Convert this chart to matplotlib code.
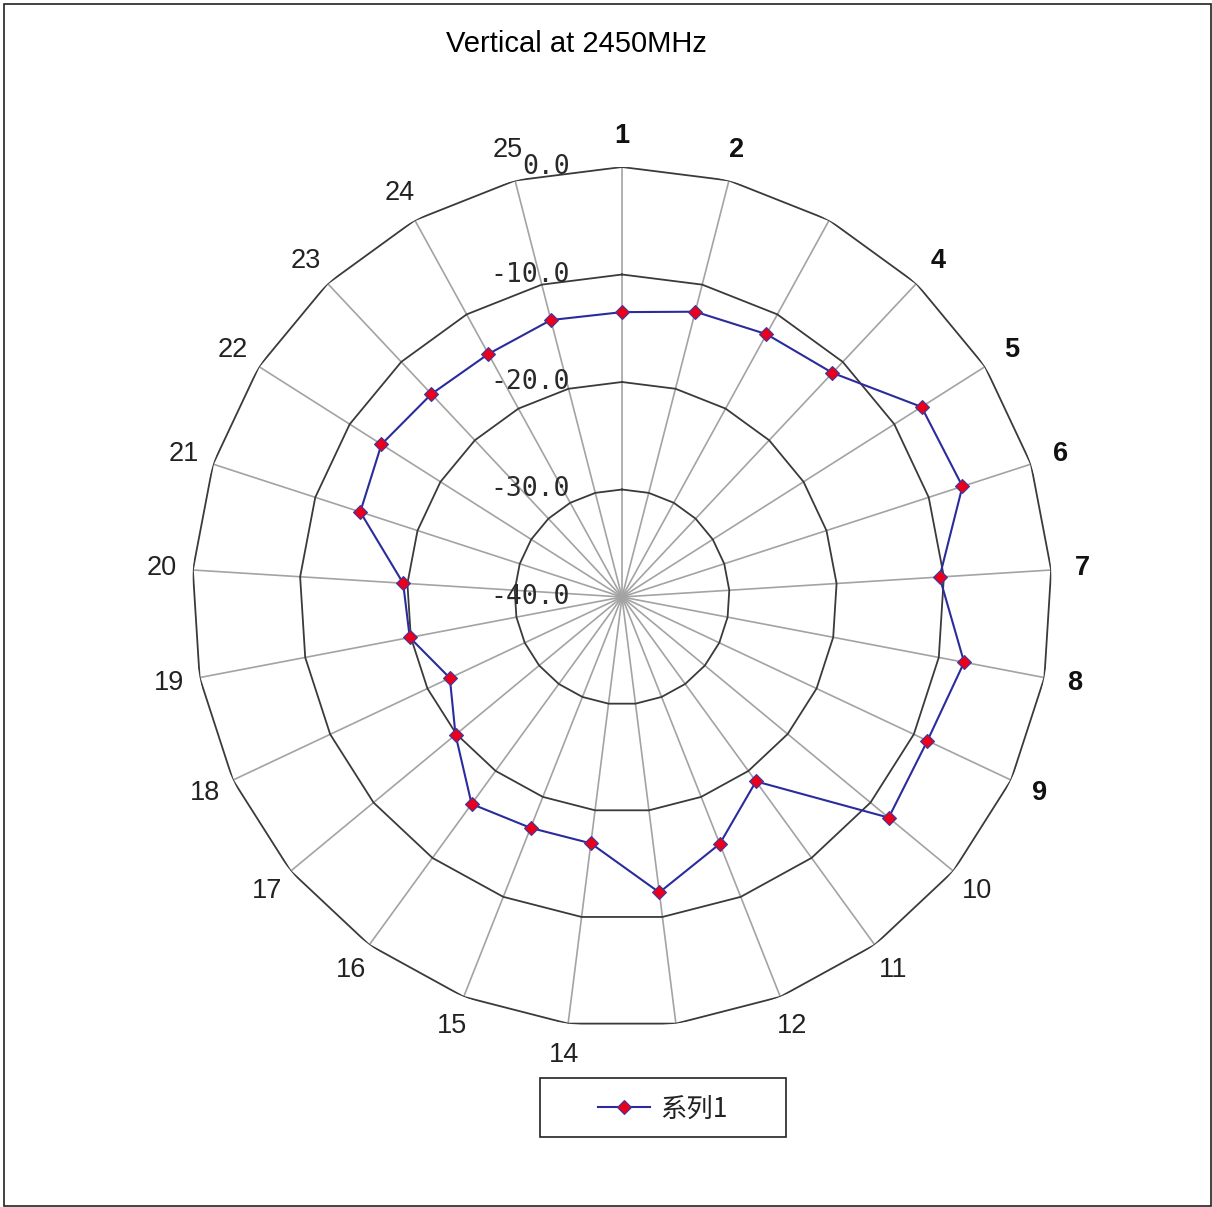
import numpy as np
import matplotlib
matplotlib.use("Agg")
import matplotlib.pyplot as plt
from matplotlib.patches import Rectangle
from matplotlib.lines import Line2D

# ---- data ----
categories = [str(i) for i in range(1, 26)]
hidden_labels = ["3", "13"]
bold_labels = ["1", "2", "3", "4", "5", "6", "7", "8", "9"]
values = [-13.5, -12.6, -12.1, -11.4, -7.0, -6.7, -10.4, -7.6, -8.6, -7.8,
          -18.8, -15.3, -12.3, -16.9, -16.9, -16.2, -19.9, -22.3, -19.9, -19.6,
          -14.4, -13.5, -14.1, -14.2, -13.4]
r_ticks = [0.0, -10.0, -20.0, -30.0, -40.0]
r_min, r_max = -40.0, 0.0
series_name = "系列1"
title = "Vertical at 2450MHz"

W, H = 1212, 1207
fig = plt.figure(figsize=(W / 100, H / 100), dpi=100)
fig.patch.set_facecolor("white")

cx, cy, R = 622, 597, 430
ax = fig.add_axes([(cx - R) / W, (H - cy - R) / H, 2 * R / W, 2 * R / H], projection="polar")
ax.set_theta_zero_location("N")
ax.set_theta_direction(-1)
ax.set_ylim(r_min, r_max)
ax.set_xticks([])
ax.set_yticks([])
ax.grid(False)
ax.spines["polar"].set_visible(False)
ax.patch.set_alpha(0)

n = len(categories)
theta = np.arange(n) * 2 * np.pi / n
theta_c = np.append(theta, theta[0])

# spokes
for t in theta:
    ax.plot([t, t], [r_min, r_max], color="#a3a3a3", lw=1.2, zorder=1)
# polygon rings
for lv in r_ticks:
    if lv == r_min:
        continue
    ax.plot(theta_c, [lv] * (n + 1), color="#3a3a3a", lw=1.3, zorder=2)

# series
vals_c = np.append(values, values[0])
ax.plot(theta_c, vals_c, color="#2b2b9c", lw=1.5, zorder=4)
ax.plot(theta, values, linestyle="none", marker="D", markersize=7.5,
        markerfacecolor="#e8001c", markeredgecolor="#3a3aa0", markeredgewidth=0.8, zorder=5)

# category labels
for t, c in zip(theta, categories):
    if c in hidden_labels:
        continue
    ax.text(t, r_max + 2.9, c, ha="center", va="center", fontsize=19.5,
            fontweight="bold" if c in bold_labels else "normal",
            family="Liberation Sans", color="#111111" if c in bold_labels else "#222222")

# radial tick labels
for lv in r_ticks:
    ax.annotate(f"{lv:.1f}", xy=(0, lv), xytext=(-52, 0), textcoords="offset pixels",
                ha="right", va="center", fontsize=19, family="DejaVu Sans Mono",
                color="#2a2a2a", zorder=6)

# title
fig.text(576 / W, 1 - 51.7 / H, title, ha="center", va="baseline", fontsize=21,
         family="Liberation Sans", color="black")

# legend (manual box)
fig.patches.append(Rectangle((540 / W, 1 - 1137 / H), 246 / W, 59 / H, transform=fig.transFigure,
                             facecolor="white", edgecolor="#222222", lw=1.2))
fig.lines.append(Line2D([598 / W, 650 / W], [1 - 1107 / H] * 2, transform=fig.transFigure,
                        color="#2b2b9c", lw=1.5))
fig.lines.append(Line2D([624 / W], [1 - 1107 / H], transform=fig.transFigure, marker="D",
                        markersize=7.5, markerfacecolor="#e8001c", markeredgecolor="#3a3aa0",
                        markeredgewidth=0.8))
fig.text(660 / W, 1 - 1109 / H, series_name, ha="left", va="center", fontsize=19,
         family=["Noto Sans CJK SC", "DejaVu Sans"], color="#222222")

# figure border
fig.patches.append(Rectangle((3.5 / W, 1.5 / H), (W - 5) / W, (H - 5) / H, transform=fig.transFigure,
                             facecolor="none", edgecolor="#222222", lw=1.2))

fig.savefig("out.png", dpi=100)
